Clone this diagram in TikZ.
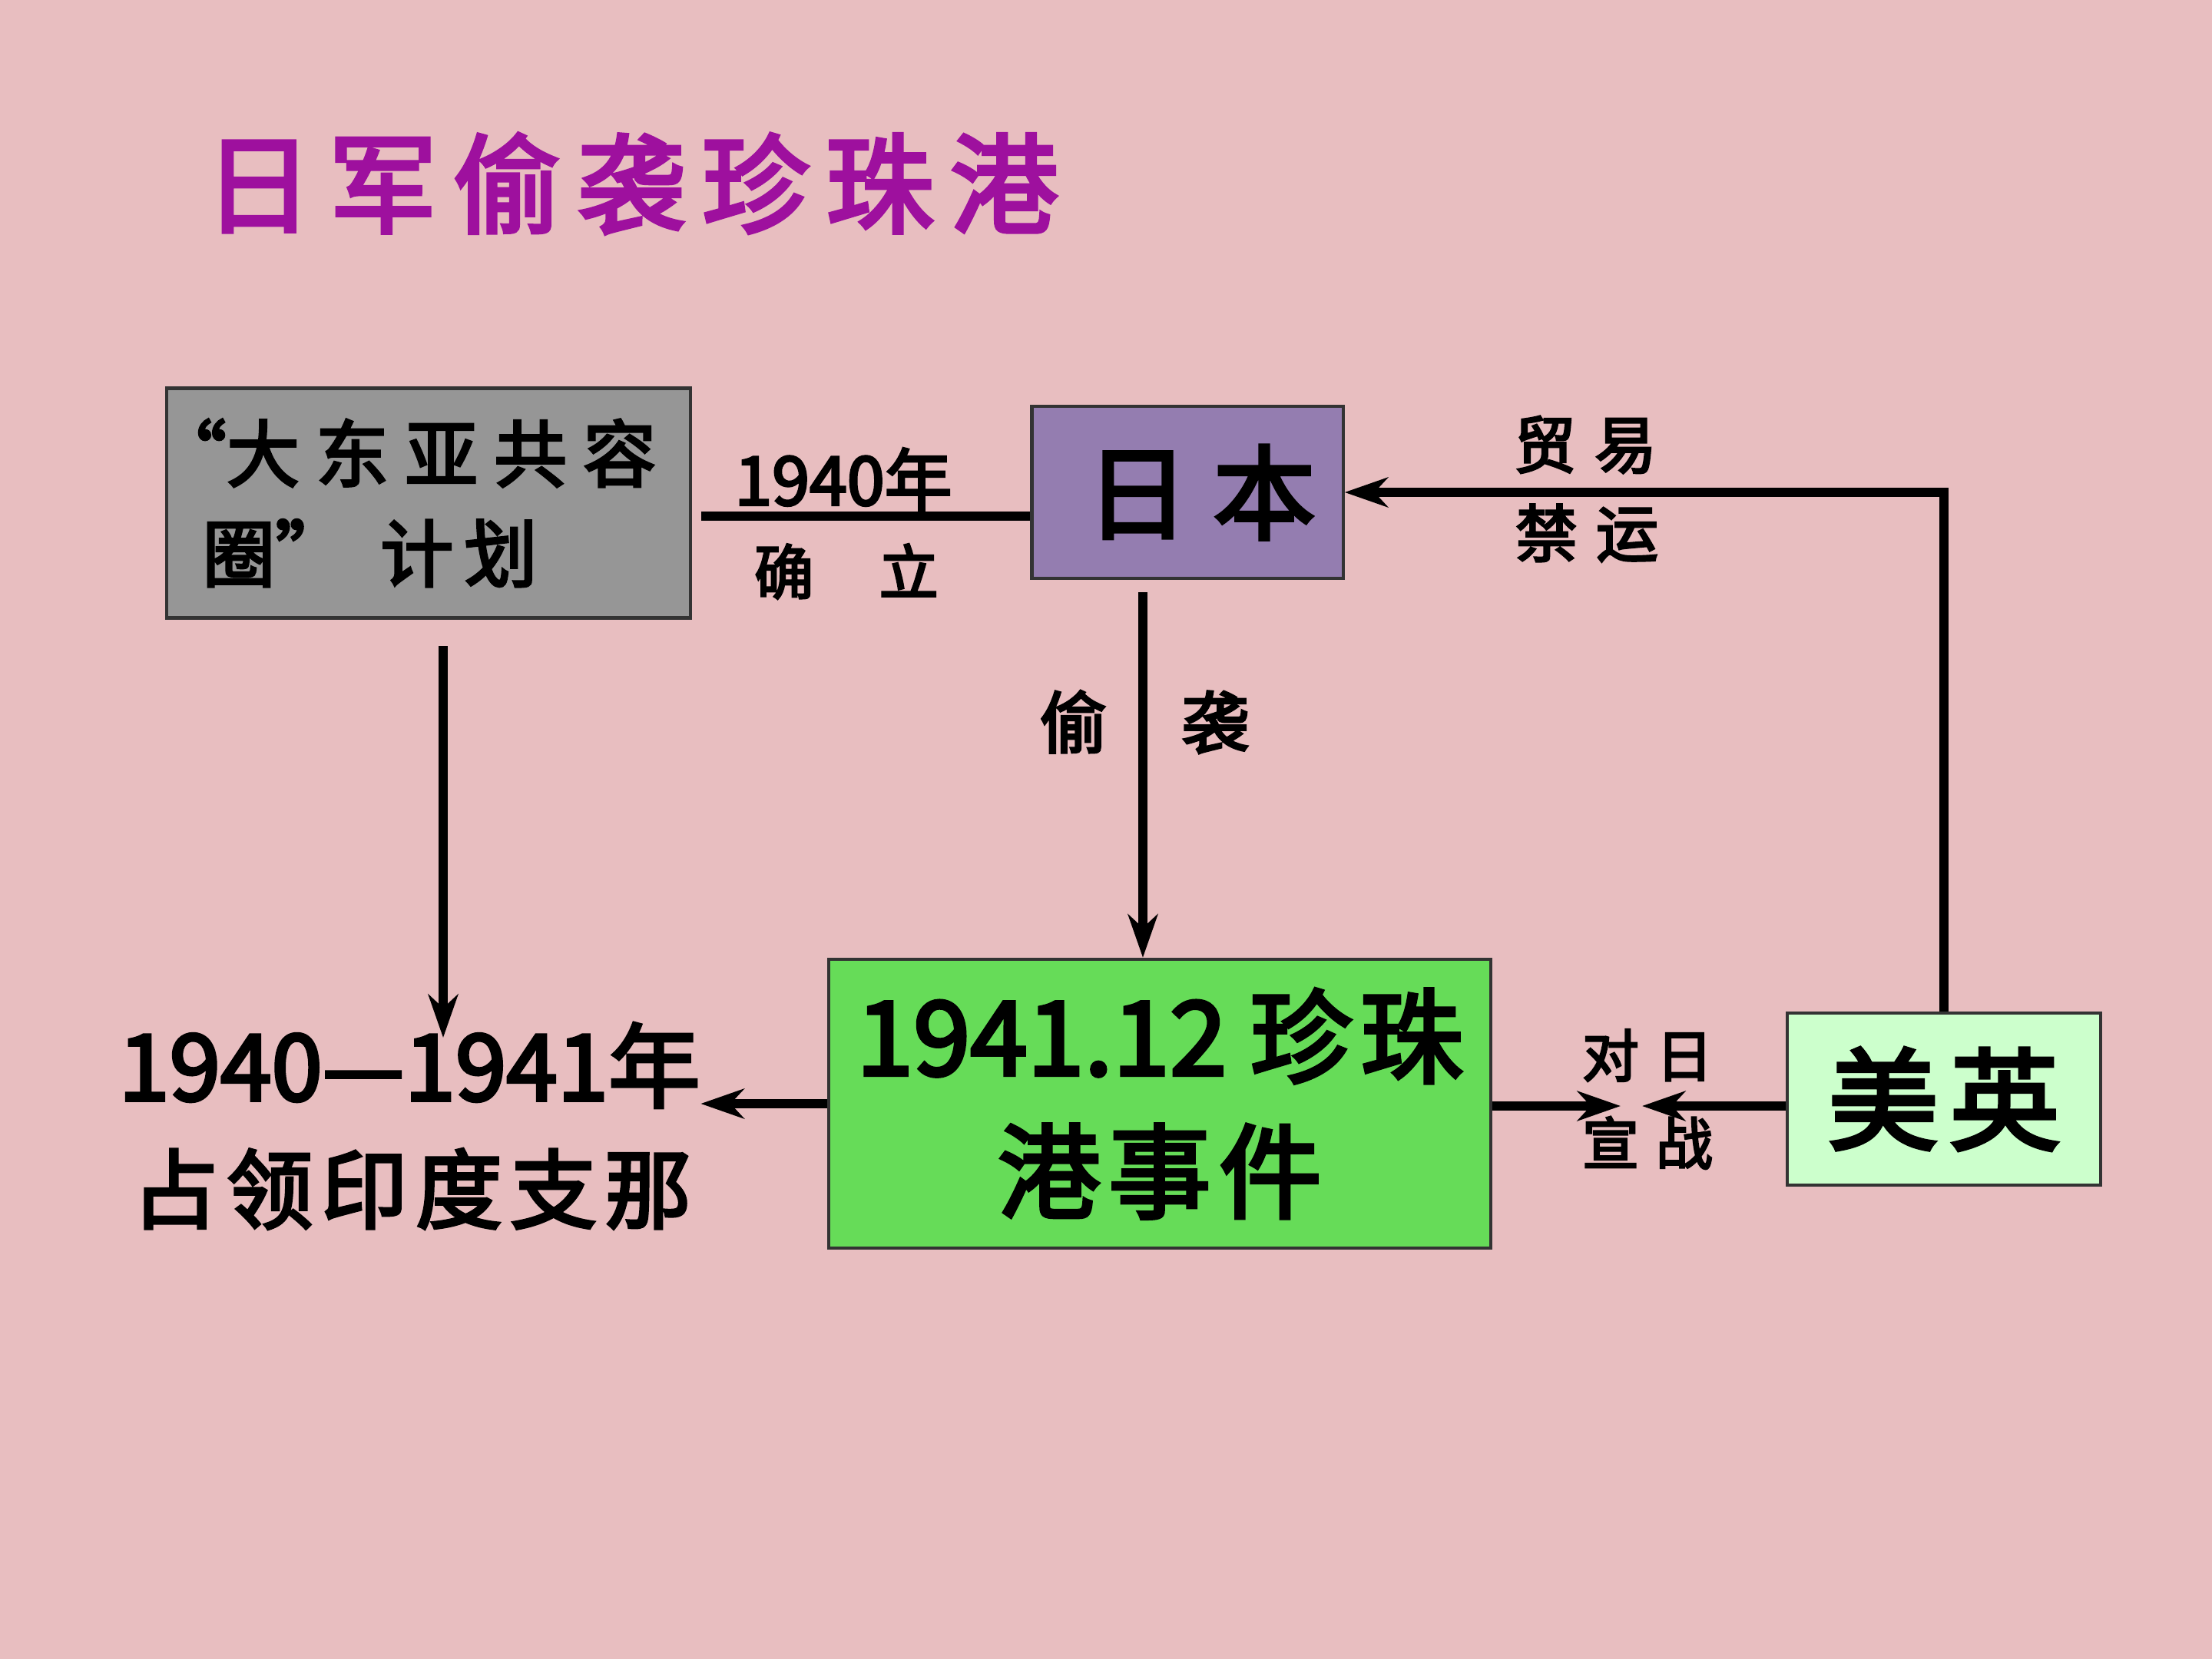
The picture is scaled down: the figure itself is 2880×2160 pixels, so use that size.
\documentclass[tikz,border=0pt]{standalone}
\usepackage{fontspec}
\setmainfont{Noto Sans CJK SC}[FakeBold=3.5]
\usetikzlibrary{arrows.meta}
\definecolor{bgpink}{RGB}{232,190,192}
\definecolor{titlepurple}{RGB}{158,16,158}
\definecolor{plangray}{RGB}{150,150,150}
\definecolor{japanpurple}{RGB}{148,125,176}
\definecolor{pearlgreen}{RGB}{102,220,88}
\definecolor{alliesgreen}{RGB}{204,255,204}
\begin{document}
\begin{tikzpicture}[x=0.01cm,y=-0.01cm,
  >={Stealth[length=16pt,width=11pt,inset=5pt]},
  box/.style={draw=black!80,line width=1.2pt},
  arr/.style={->,line width=3.3pt},
  link/.style={line width=3.3pt},
  lbl/.style={inner sep=0pt,font=\fontsize{#1}{#1}\selectfont}]
% 背景
\fill[bgpink] (0,0) rectangle (2880,2160);
\useasboundingbox (0,0) rectangle (2880,2160);
% 标题
\node[lbl=40,text=titlepurple] (title) at (822,239) {日\hspace{6pt}军\hspace{6pt}偷\hspace{6pt}袭\hspace{6pt}珍\hspace{6pt}珠\hspace{6pt}港};
% 方框
\node[box,fill=plangray,inner xsep=0.15cm,inner ysep=0pt,text width=6.52cm,minimum height=2.99cm,align=left,font=\fontsize{27}{37}\selectfont] (plan) at (558,655) {\mbox{\hspace*{-9pt}“大\hspace{6pt}东\hspace{6pt}亚\hspace{6pt}共\hspace{6pt}容}\\\mbox{\hspace*{9pt}圈”\hspace{12pt}计\hspace{4pt}划}};
\node[box,fill=japanpurple,minimum width=4.05cm,minimum height=2.24cm,inner sep=0pt,font=\fontsize{38}{38}\selectfont] (japan) at (1546,641) {\hspace{10pt}日\hspace{9pt}本};
\node[box,fill=pearlgreen,minimum width=8.61cm,minimum height=3.76cm,inner sep=0pt,align=center,font=\fontsize{38}{50}\selectfont] (pearl) at (1510,1437) {1941.12 珍\hspace{3pt}珠\\港\hspace{3pt}事\hspace{3pt}件};
\node[box,fill=alliesgreen,minimum width=4.08cm,minimum height=2.24cm,inner sep=0pt,font=\fontsize{41}{41}\selectfont] (allies) at (2531,1431) {美\hspace{4pt}英\hspace{10pt}};
% 左下文字
\node[lbl=34] (years) at (533,1387) {1940—1941年};
\node[lbl=32] (occupy) at (536,1548) {占\hspace{3pt}领\hspace{3pt}印\hspace{3pt}度\hspace{3pt}支\hspace{3pt}那};
% 连线标注
\node[lbl=25] (found-year) at (1098,624) {1940年};
\node[lbl=22] (found) at (1102,744) {确\hspace{1.1em}立};
\node[lbl=25] (raid) at (1490,940) {偷\hspace{1.1em}袭};
\node[lbl=23] (trade) at (2064,579) {贸\hspace{0.3em}易};
\node[lbl=23] (embargo) at (2066,694) {禁\hspace{0.3em}运};
\node[lbl=21] (declare-a) at (2145,1374) {对\hspace{0.3em}日};
\node[lbl=21] (declare-b) at (2145,1488) {宣\hspace{0.3em}战};
% 连线
\coordinate (plan-out) at (913,672);
\coordinate (plan-down) at (577,841);
\coordinate (raid-top) at (1488,771);
\coordinate (war) at (2124,1440);
\draw[link] (plan-out) -- (plan-out -| japan.west);
\draw[arr] (plan-down) -- ([yshift=-0.2cm]plan-down |- years.north);
\draw[arr] (raid-top) -- (raid-top |- pearl.north);
\draw[arr] (pearl.west) -- (pearl.west -| years.east);
\draw[arr] (allies.north) |- (japan.east);
\draw[arr] (pearl.east |- war) -- ([xshift=-0.14cm]war);
\draw[arr] (allies.west |- war) -- ([xshift=0.14cm]war);
\end{tikzpicture}
\end{document}
